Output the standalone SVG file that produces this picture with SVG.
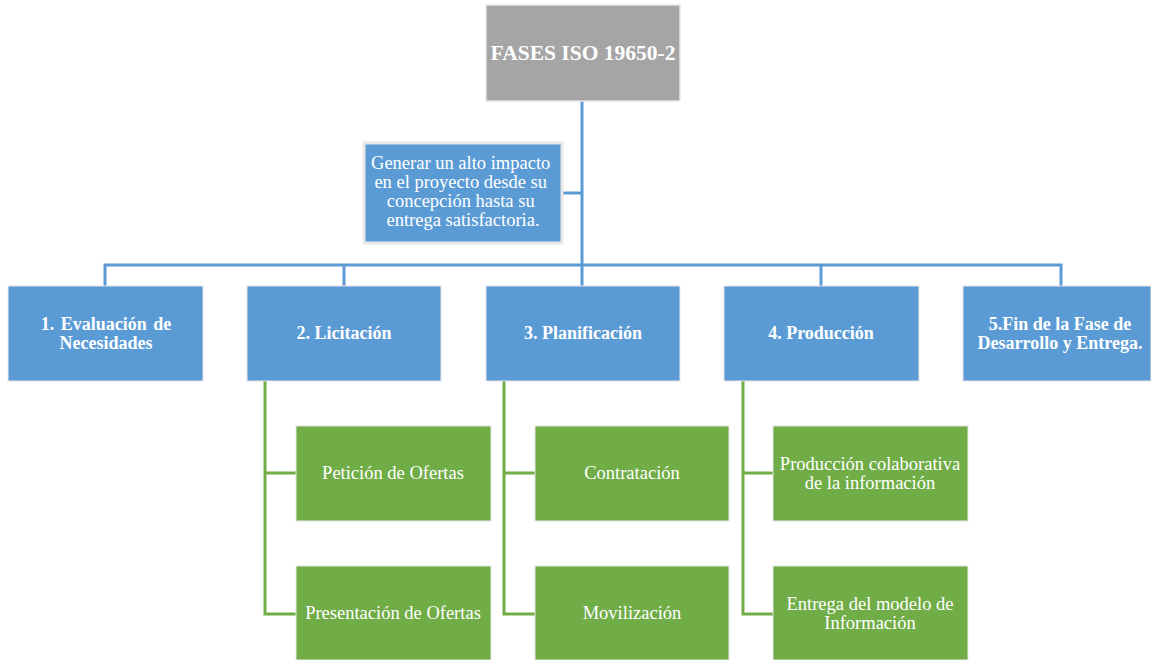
<svg xmlns="http://www.w3.org/2000/svg" width="1151" height="660" viewBox="0 0 1151 660">
  <style>
    .t { font-family: "Liberation Serif", "Times New Roman", serif; fill: #ffffff; text-anchor: middle; }
    .b { font-weight: bold; font-size: 18px; }
    .r { font-size: 18.5px; }
    .root { fill: #A5A5A5; stroke: #e6e6e6; stroke-width: 1.5; }
    .phase { fill: #5B9BD5; stroke: #e6e6e6; stroke-width: 1; }
    .task { fill: #70AD47; stroke: #e6e6e6; stroke-width: 1; }
    .note { fill: #5B9BD5; stroke: #e8e8e8; stroke-width: 3; }
    .lb { fill: none; stroke: #5B9BD5; stroke-width: 3; }
    .lg { fill: none; stroke: #70AD47; stroke-width: 3; }
  </style>

  <g id="connectors">
    <!-- trunk from title down to phase bus -->
    <path class="lb" d="M582,101 V286"/>
    <path class="lb" d="M561,193 H582"/>
    <!-- phase bus and drops -->
    <path class="lb" d="M105,286 V265 H1061 V286"/>
    <path class="lb" d="M344,265 V286"/>
    <path class="lb" d="M821,265 V286"/>
    <!-- sub-task brackets -->
    <path class="lg" d="M265,381 V614 H296 M265,473 H296"/>
    <path class="lg" d="M504,381 V614 H535 M504,473 H535"/>
    <path class="lg" d="M743,381 V614 H773 M743,473 H773"/>
  </g>

  <g id="title">
    <rect class="root" x="486" y="5" width="194" height="96"/>
    <text class="t" x="583" y="60" font-size="21.5" font-weight="bold">FASES ISO 19650-2</text>
  </g>

  <g id="objective">
    <rect class="note" x="364" y="143" width="198" height="100"/>
    <text class="t r" x="463" y="169">
      <tspan x="463">Generar un alto impacto</tspan>
      <tspan x="463" dy="19">en el proyecto desde su</tspan>
      <tspan x="463" dy="19">concepción hasta su</tspan>
      <tspan x="463" dy="19">entrega satisfactoria.</tspan>
    </text>
  </g>

  <g id="phase1">
    <rect class="phase" x="8" y="286" width="195" height="95"/>
    <text class="t b" x="106" y="330" word-spacing="2"><tspan x="106">1. Evaluación de</tspan><tspan x="106" dy="19">Necesidades</tspan></text>
  </g>
  <g id="phase2">
    <rect class="phase" x="247" y="286" width="194" height="95"/>
    <text class="t b" x="344" y="339">2. Licitación</text>
  </g>
  <g id="phase3">
    <rect class="phase" x="486" y="286" width="194" height="95"/>
    <text class="t b" x="583" y="339">3. Planificación</text>
  </g>
  <g id="phase4">
    <rect class="phase" x="724" y="286" width="195" height="95"/>
    <text class="t b" x="821" y="339">4. Producción</text>
  </g>
  <g id="phase5">
    <rect class="phase" x="963" y="286" width="188" height="95"/>
    <text class="t b" x="1060" y="330"><tspan x="1060">5.Fin de la Fase de</tspan><tspan x="1060" dy="19">Desarrollo y Entrega.</tspan></text>
  </g>

  <g id="task-peticion">
    <rect class="task" x="296" y="426" width="195" height="95"/>
    <text class="t r" x="393" y="479">Petición de Ofertas</text>
  </g>
  <g id="task-presentacion">
    <rect class="task" x="296" y="566" width="195" height="94"/>
    <text class="t r" x="393" y="619">Presentación de Ofertas</text>
  </g>
  <g id="task-contratacion">
    <rect class="task" x="535" y="426" width="194" height="95"/>
    <text class="t r" x="632" y="479">Contratación</text>
  </g>
  <g id="task-movilizacion">
    <rect class="task" x="535" y="566" width="194" height="94"/>
    <text class="t r" x="632" y="619">Movilización</text>
  </g>
  <g id="task-produccion">
    <rect class="task" x="773" y="426" width="195" height="95"/>
    <text class="t r" x="870" y="470"><tspan x="870">Producción colaborativa</tspan><tspan x="870" dy="19">de la información</tspan></text>
  </g>
  <g id="task-entrega">
    <rect class="task" x="773" y="566" width="195" height="94"/>
    <text class="t r" x="870" y="610"><tspan x="870">Entrega del modelo de</tspan><tspan x="870" dy="19">Información</tspan></text>
  </g>
</svg>
